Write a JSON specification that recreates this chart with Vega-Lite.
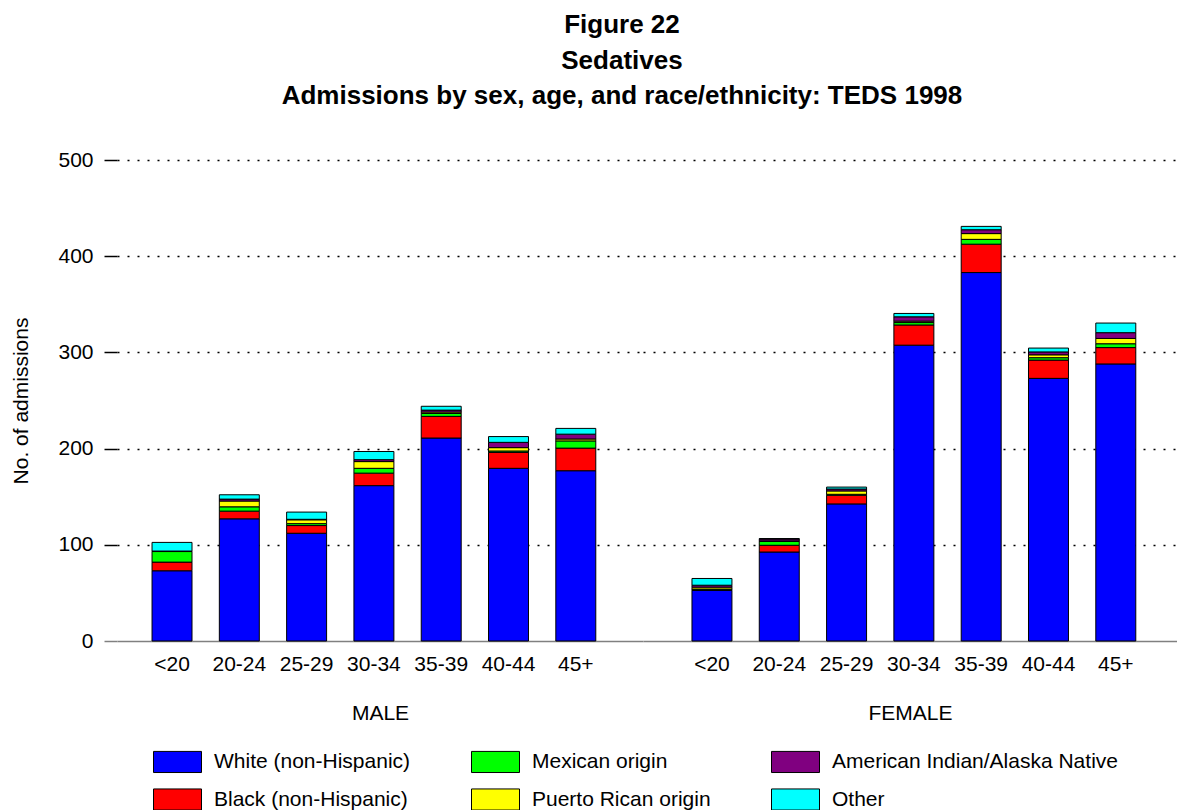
{
  "$schema": "https://vega.github.io/schema/vega-lite/v6.json",
  "background": "white",
  "padding": {"left": 10, "top": 12, "right": 0, "bottom": 0},
  "config": {
    "font": "Liberation Sans",
    "view": {"stroke": null},
    "axis": {"labelFont": "Liberation Sans", "titleFont": "Liberation Sans", "labelColor": "black", "titleColor": "black", "labelFontSize": 21, "titleFontSize": 21, "titleFontWeight": "normal"},
    "legend": {"labelFont": "Liberation Sans"}
  },
  "title": {
    "text": ["Figure 22", "Sedatives", "Admissions by sex, age, and race/ethnicity: TEDS 1998"],
    "font": "Liberation Sans", "fontSize": 26, "fontWeight": "bold", "color": "black",
    "lineHeight": 35.5, "anchor": "middle", "dx": 28, "offset": 40
  },
  "datasets": {
    "adm": [
      {"sex": "MALE", "age": "<20", "race": "White (non-Hispanic)", "n": 73},
      {"sex": "MALE", "age": "<20", "race": "Black (non-Hispanic)", "n": 9},
      {"sex": "MALE", "age": "<20", "race": "Mexican origin", "n": 11},
      {"sex": "MALE", "age": "<20", "race": "Puerto Rican origin", "n": 0.5},
      {"sex": "MALE", "age": "<20", "race": "American Indian/Alaska Native", "n": 0},
      {"sex": "MALE", "age": "<20", "race": "Other", "n": 9},
      {"sex": "MALE", "age": "20-24", "race": "White (non-Hispanic)", "n": 127},
      {"sex": "MALE", "age": "20-24", "race": "Black (non-Hispanic)", "n": 8},
      {"sex": "MALE", "age": "20-24", "race": "Mexican origin", "n": 4.5},
      {"sex": "MALE", "age": "20-24", "race": "Puerto Rican origin", "n": 6},
      {"sex": "MALE", "age": "20-24", "race": "American Indian/Alaska Native", "n": 2},
      {"sex": "MALE", "age": "20-24", "race": "Other", "n": 4.5},
      {"sex": "MALE", "age": "25-29", "race": "White (non-Hispanic)", "n": 112},
      {"sex": "MALE", "age": "25-29", "race": "Black (non-Hispanic)", "n": 8},
      {"sex": "MALE", "age": "25-29", "race": "Mexican origin", "n": 2},
      {"sex": "MALE", "age": "25-29", "race": "Puerto Rican origin", "n": 4},
      {"sex": "MALE", "age": "25-29", "race": "American Indian/Alaska Native", "n": 0.5},
      {"sex": "MALE", "age": "25-29", "race": "Other", "n": 7.5},
      {"sex": "MALE", "age": "30-34", "race": "White (non-Hispanic)", "n": 161.5},
      {"sex": "MALE", "age": "30-34", "race": "Black (non-Hispanic)", "n": 13},
      {"sex": "MALE", "age": "30-34", "race": "Mexican origin", "n": 5},
      {"sex": "MALE", "age": "30-34", "race": "Puerto Rican origin", "n": 7},
      {"sex": "MALE", "age": "30-34", "race": "American Indian/Alaska Native", "n": 2},
      {"sex": "MALE", "age": "30-34", "race": "Other", "n": 8.5},
      {"sex": "MALE", "age": "35-39", "race": "White (non-Hispanic)", "n": 211},
      {"sex": "MALE", "age": "35-39", "race": "Black (non-Hispanic)", "n": 22.5},
      {"sex": "MALE", "age": "35-39", "race": "Mexican origin", "n": 3},
      {"sex": "MALE", "age": "35-39", "race": "Puerto Rican origin", "n": 1.5},
      {"sex": "MALE", "age": "35-39", "race": "American Indian/Alaska Native", "n": 2},
      {"sex": "MALE", "age": "35-39", "race": "Other", "n": 4},
      {"sex": "MALE", "age": "40-44", "race": "White (non-Hispanic)", "n": 179.5},
      {"sex": "MALE", "age": "40-44", "race": "Black (non-Hispanic)", "n": 16.5},
      {"sex": "MALE", "age": "40-44", "race": "Mexican origin", "n": 1.5},
      {"sex": "MALE", "age": "40-44", "race": "Puerto Rican origin", "n": 3.5},
      {"sex": "MALE", "age": "40-44", "race": "American Indian/Alaska Native", "n": 5.5},
      {"sex": "MALE", "age": "40-44", "race": "Other", "n": 6},
      {"sex": "MALE", "age": "45+", "race": "White (non-Hispanic)", "n": 177},
      {"sex": "MALE", "age": "45+", "race": "Black (non-Hispanic)", "n": 23.5},
      {"sex": "MALE", "age": "45+", "race": "Mexican origin", "n": 7.5},
      {"sex": "MALE", "age": "45+", "race": "Puerto Rican origin", "n": 2},
      {"sex": "MALE", "age": "45+", "race": "American Indian/Alaska Native", "n": 5},
      {"sex": "MALE", "age": "45+", "race": "Other", "n": 6},
      {"sex": "FEMALE", "age": "<20", "race": "White (non-Hispanic)", "n": 52.5},
      {"sex": "FEMALE", "age": "<20", "race": "Black (non-Hispanic)", "n": 0.5},
      {"sex": "FEMALE", "age": "<20", "race": "Mexican origin", "n": 1},
      {"sex": "FEMALE", "age": "<20", "race": "Puerto Rican origin", "n": 2},
      {"sex": "FEMALE", "age": "<20", "race": "American Indian/Alaska Native", "n": 2},
      {"sex": "FEMALE", "age": "<20", "race": "Other", "n": 7},
      {"sex": "FEMALE", "age": "20-24", "race": "White (non-Hispanic)", "n": 92.5},
      {"sex": "FEMALE", "age": "20-24", "race": "Black (non-Hispanic)", "n": 7},
      {"sex": "FEMALE", "age": "20-24", "race": "Mexican origin", "n": 4},
      {"sex": "FEMALE", "age": "20-24", "race": "Puerto Rican origin", "n": 0.5},
      {"sex": "FEMALE", "age": "20-24", "race": "American Indian/Alaska Native", "n": 2},
      {"sex": "FEMALE", "age": "20-24", "race": "Other", "n": 0.5},
      {"sex": "FEMALE", "age": "25-29", "race": "White (non-Hispanic)", "n": 142.5},
      {"sex": "FEMALE", "age": "25-29", "race": "Black (non-Hispanic)", "n": 9},
      {"sex": "FEMALE", "age": "25-29", "race": "Mexican origin", "n": 1},
      {"sex": "FEMALE", "age": "25-29", "race": "Puerto Rican origin", "n": 3.5},
      {"sex": "FEMALE", "age": "25-29", "race": "American Indian/Alaska Native", "n": 2},
      {"sex": "FEMALE", "age": "25-29", "race": "Other", "n": 2},
      {"sex": "FEMALE", "age": "30-34", "race": "White (non-Hispanic)", "n": 307.5},
      {"sex": "FEMALE", "age": "30-34", "race": "Black (non-Hispanic)", "n": 21},
      {"sex": "FEMALE", "age": "30-34", "race": "Mexican origin", "n": 2.5},
      {"sex": "FEMALE", "age": "30-34", "race": "Puerto Rican origin", "n": 1.5},
      {"sex": "FEMALE", "age": "30-34", "race": "American Indian/Alaska Native", "n": 4.5},
      {"sex": "FEMALE", "age": "30-34", "race": "Other", "n": 3.5},
      {"sex": "FEMALE", "age": "35-39", "race": "White (non-Hispanic)", "n": 383},
      {"sex": "FEMALE", "age": "35-39", "race": "Black (non-Hispanic)", "n": 29.5},
      {"sex": "FEMALE", "age": "35-39", "race": "Mexican origin", "n": 5},
      {"sex": "FEMALE", "age": "35-39", "race": "Puerto Rican origin", "n": 6},
      {"sex": "FEMALE", "age": "35-39", "race": "American Indian/Alaska Native", "n": 4},
      {"sex": "FEMALE", "age": "35-39", "race": "Other", "n": 3.5},
      {"sex": "FEMALE", "age": "40-44", "race": "White (non-Hispanic)", "n": 273},
      {"sex": "FEMALE", "age": "40-44", "race": "Black (non-Hispanic)", "n": 19},
      {"sex": "FEMALE", "age": "40-44", "race": "Mexican origin", "n": 2.5},
      {"sex": "FEMALE", "age": "40-44", "race": "Puerto Rican origin", "n": 3},
      {"sex": "FEMALE", "age": "40-44", "race": "American Indian/Alaska Native", "n": 3},
      {"sex": "FEMALE", "age": "40-44", "race": "Other", "n": 4},
      {"sex": "FEMALE", "age": "45+", "race": "White (non-Hispanic)", "n": 288},
      {"sex": "FEMALE", "age": "45+", "race": "Black (non-Hispanic)", "n": 17},
      {"sex": "FEMALE", "age": "45+", "race": "Mexican origin", "n": 4},
      {"sex": "FEMALE", "age": "45+", "race": "Puerto Rican origin", "n": 5.5},
      {"sex": "FEMALE", "age": "45+", "race": "American Indian/Alaska Native", "n": 6},
      {"sex": "FEMALE", "age": "45+", "race": "Other", "n": 10}
    ]
  },
  "spacing": 0,
  "resolve": {"scale": {"color": "shared", "y": "independent", "x": "independent"}, "legend": {"color": "shared"}, "axis": {"y": "independent", "x": "independent"}},
  "hconcat": [
    {
      "width": 526,
      "height": 481,
      "data": {"name": "adm"},
      "transform": [
        {"filter": "datum.sex === 'MALE'"},
        {"calculate": "indexof(['White (non-Hispanic)','Black (non-Hispanic)','Mexican origin','Puerto Rican origin','American Indian/Alaska Native','Other'], datum.race)", "as": "k"}
      ],
      "mark": {"type": "bar", "stroke": "black", "strokeWidth": 1},
      "encoding": {
        "x": {
          "field": "age", "type": "nominal",
          "sort": ["<20", "20-24", "25-29", "30-34", "35-39", "40-44", "45+"],
          "scale": {"paddingInner": 0.406, "paddingOuter": 0.611, "align": 0.426},
          "axis": {"title": "MALE", "labelAngle": 0, "ticks": false, "domainColor": "#808080", "domainWidth": 1.5, "labelPadding": 12, "titlePadding": 28}
        },
        "y": {
          "field": "n", "type": "quantitative", "aggregate": "sum", "stack": "zero",
          "scale": {"domain": [0, 500], "nice": false},
          "axis": {
            "title": "No. of admissions", "values": [0, 100, 200, 300, 400, 500],
            "domain": false, "tickSize": 13, "labelPadding": 11, "titlePadding": 26,
            "tickColor": {"condition": {"test": "datum.value === 0", "value": "#808080"}, "value": "black"},
            "tickWidth": 1.5,
            "grid": true, "gridColor": "black", "gridDash": [2, 8], "gridWidth": 1.5,
            "gridOpacity": {"condition": {"test": "datum.value === 0", "value": 0}, "value": 1}
          }
        },
        "color": {
          "field": "race", "type": "nominal",
          "scale": {
            "domain": ["White (non-Hispanic)", "Mexican origin", "American Indian/Alaska Native", "Black (non-Hispanic)", "Puerto Rican origin", "Other"],
            "range": ["#0000ff", "#00ff00", "#800080", "#ff0000", "#ffff00", "#00ffff"]
          },
          "legend": {
            "title": null, "orient": "none", "legendX": 36, "legendY": 577,
            "columns": 3, "direction": "horizontal",
            "symbolType": "M-1,-0.44H1V0.44H-1Z", "symbolSize": 2304,
            "symbolStrokeColor": "black", "symbolStrokeWidth": 1, "symbolOpacity": 1,
            "labelFontSize": 21, "labelColor": "black", "labelOffset": 12,
            "columnPadding": 58, "rowPadding": -12, "labelLimit": 400
          }
        },
        "order": {"field": "k", "type": "quantitative", "sort": "ascending"}
      }
    },
    {
      "width": 534,
      "height": 481,
      "data": {"name": "adm"},
      "transform": [
        {"filter": "datum.sex === 'FEMALE'"},
        {"calculate": "indexof(['White (non-Hispanic)','Black (non-Hispanic)','Mexican origin','Puerto Rican origin','American Indian/Alaska Native','Other'], datum.race)", "as": "k"}
      ],
      "mark": {"type": "bar", "stroke": "black", "strokeWidth": 1},
      "encoding": {
        "x": {
          "field": "age", "type": "nominal",
          "sort": ["<20", "20-24", "25-29", "30-34", "35-39", "40-44", "45+"],
          "scale": {"paddingInner": 0.406, "paddingOuter": 0.67, "align": 0.543},
          "axis": {"title": "FEMALE", "labelAngle": 0, "ticks": false, "domainColor": "#808080", "domainWidth": 1.5, "labelPadding": 12, "titlePadding": 28}
        },
        "y": {
          "field": "n", "type": "quantitative", "aggregate": "sum", "stack": "zero",
          "scale": {"domain": [0, 500], "nice": false},
          "axis": {
            "title": null, "values": [0, 100, 200, 300, 400, 500],
            "domain": false, "ticks": false, "labels": false,
            "grid": true, "gridColor": "black", "gridDash": [2, 8], "gridWidth": 1.5,
            "gridOpacity": {"condition": {"test": "datum.value === 0", "value": 0}, "value": 1}
          }
        },
        "color": {"field": "race", "type": "nominal"},
        "order": {"field": "k", "type": "quantitative", "sort": "ascending"}
      }
    }
  ]
}
